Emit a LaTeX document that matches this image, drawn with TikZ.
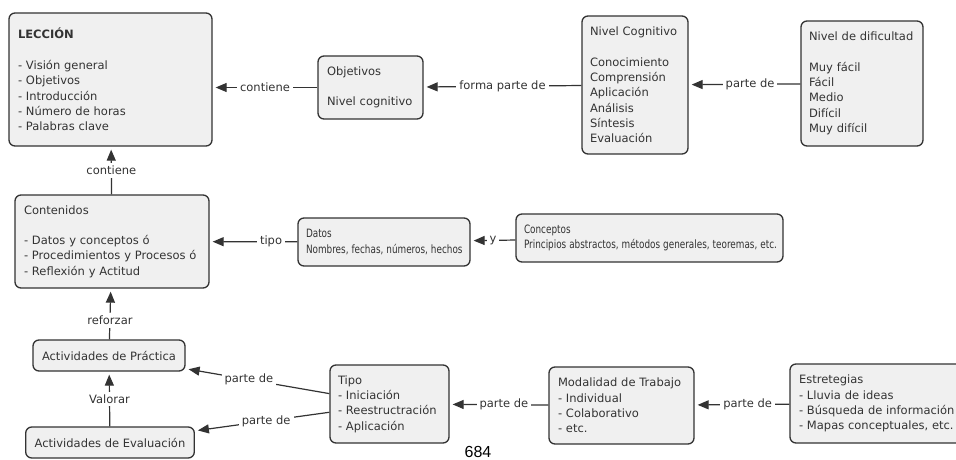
\documentclass[tikz,border=0pt]{standalone}
\usepackage{fontspec}
\usepackage{graphicx}
\setmainfont{DejaVu Sans}
\newfontfamily\arialfont{Liberation Sans}
\usetikzlibrary{arrows.meta}
\definecolor{boxfill}{HTML}{F0F0F0}
\definecolor{ink}{HTML}{333333}
\newcommand{\narrow}[1]{\scalebox{0.77}[1]{#1}}
\newcommand{\nohyph}{\hyphenpenalty=10000 \exhyphenpenalty=10000 \relax}
\begin{document}
\begin{tikzpicture}[x=1pt,y=-1pt,
  box/.style={draw=ink, fill=boxfill, line width=1.3pt, rounded corners=6pt, align=left,
    inner xsep=9pt, inner ysep=0pt, text=ink,
    font=\fontsize{11.5}{15.3}\selectfont, execute at begin node=\nohyph},
  cbox/.style={box, align=center},
  conn/.style={draw=ink, line width=1.2pt, -{Triangle[length=11pt,width=9pt]}, shorten >=3pt},
  lbl/.style={fill=white, text=ink, inner sep=3pt, font=\fontsize{11.5}{14}\selectfont}]
\useasboundingbox (0,0) rectangle (956,460);
\clip (0,0) rectangle (956,460);
\fill[white] (0,0) rectangle (956,460);

\node[box, text width=185pt, minimum height=133pt] (lec) at (110.5,79.5)
  {\textbf{LECCIÓN}\\[15.3pt]- Visión general\\- Objetivos\\- Introducción\\- Número de horas\\- Palabras clave};
\node[box, text width=87pt, minimum height=63pt] (obj) at (370.5,87.5)
  {Objetivos\\[15.3pt]Nivel cognitivo};
\node[box, text width=90pt, minimum height=138pt, inner xsep=8pt] (niv) at (635,85)
  {Nivel Cognitivo\\[15.3pt]Conocimiento\\Comprensión\\Aplicación\\Análisis\\Síntesis\\Evaluación};
\node[box, text width=106pt, minimum height=125pt, inner xsep=8pt] (dif) at (862,83.5)
  {Nivel de dificultad\\[15.3pt]Muy fácil\\Fácil\\Medio\\Difícil\\Muy difícil};
\node[box, text width=176pt, minimum height=93pt] (cont) at (112,241.5)
  {Contenidos\\[15.3pt]- Datos y conceptos ó\\- Procedimientos y Procesos ó\\- Reflexión y Actitud};
\node[box, text width=156pt, minimum height=48pt, inner xsep=8pt] (datos) at (384,242)
  {\narrow{Datos}\\\narrow{Nombres, fechas, números, hechos}};
\node[box, text width=251pt, minimum height=48pt, inner xsep=8pt] (conc) at (649.5,238)
  {\narrow{Conceptos}\\\narrow{Principios abstractos, métodos generales, teoremas, etc.}};
\node[cbox, minimum width=152pt, minimum height=31pt] (prac) at (109,355.5)
  {Actividades de Práctica};
\node[cbox, minimum width=166pt, minimum height=31pt] (eval) at (110,442.5)
  {Actividades de Evaluación};
\node[box, text width=103pt, minimum height=78pt, inner xsep=8pt] (tipo) at (389.5,404)
  {Tipo\\- Iniciación\\- Reestructración\\- Aplicación};
\node[box, text width=127pt, minimum height=77pt] (mod) at (621.5,405.5)
  {Modalidad de Trabajo\\- Individual\\- Colaborativo\\- etc.};
\node[box, text width=157pt, minimum height=79pt] (est) at (877.5,403.5)
  {Estretegias\\- Lluvia de ideas\\- Búsqueda de información\\- Mapas conceptuales, etc.};

\draw[conn] (obj.west) -- node[lbl]{contiene} (obj.west -| lec.east);
\draw[conn] (niv) -- node[lbl]{forma parte de} (obj);
\draw[conn] (dif) -- node[lbl,pos=.45]{parte de} (niv);
\draw[conn] (cont) -- node[lbl]{contiene} (lec);
\draw[conn] (datos) -- node[lbl,pos=.3]{tipo} (cont);
\draw[conn] (conc) -- node[lbl]{y} (datos);
\draw[conn] (prac) -- node[lbl,pos=.38]{reforzar} (cont);
\draw[conn] (eval) -- node[lbl]{Valorar} (prac);
\draw[conn] (tipo) -- node[lbl,pos=.56]{parte de} (prac);
\draw[conn] (tipo) -- node[lbl,pos=.47]{parte de} (eval);
\draw[conn] (mod) -- node[lbl,pos=.45]{parte de} (tipo);
\draw[conn] (est) -- node[lbl,pos=.44]{parte de} (mod);

\node[font=\arialfont\fontsize{16}{16}\selectfont, text=black, inner sep=0pt] (pg) at (478,451.5) {684};
\end{tikzpicture}
\end{document}
